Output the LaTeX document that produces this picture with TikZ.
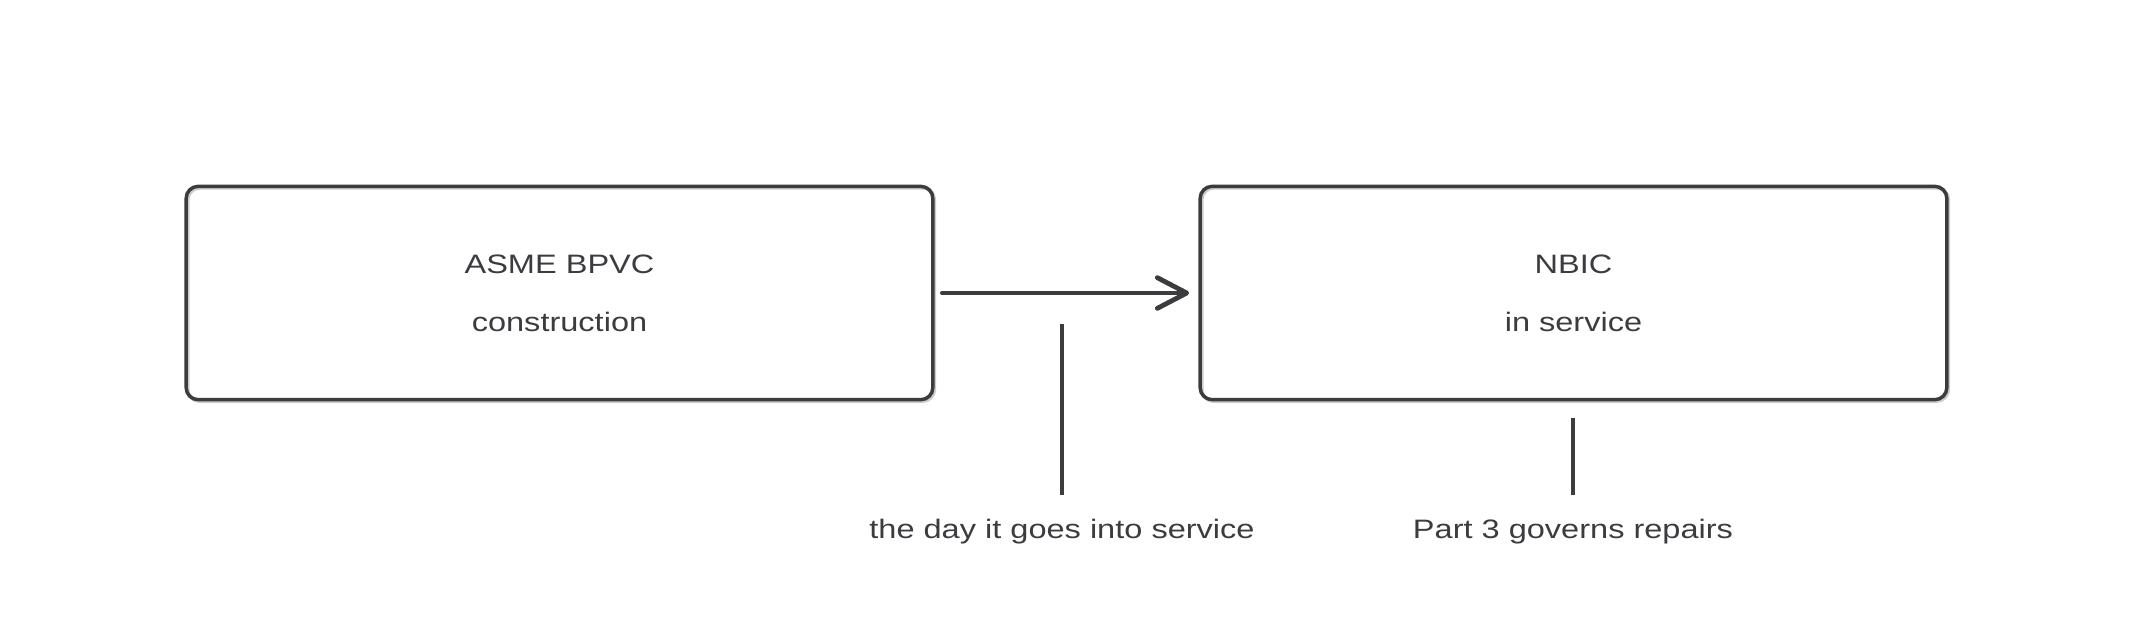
\documentclass[tikz,border=0pt]{standalone}
\usepackage{fontspec}
\setmainfont{Liberation Sans}[FakeStretch=1.22]
\usetikzlibrary{arrows.meta}
\definecolor{ink}{RGB}{60,60,64}
\definecolor{shade}{RGB}{205,205,205}
\tikzset{
  stagebox/.style={draw=ink, line width=2.6pt, rounded corners=9pt,
    minimum width=560pt, minimum height=160pt, align=center, inner sep=0pt,
    font=\fontsize{20}{43.5}\selectfont, text=ink,
    preaction={draw=shade, line width=2.6pt, transform canvas={xshift=1.2pt,yshift=-1.2pt}}},
  notetext/.style={font=\fontsize{20}{24}\selectfont, text=ink, inner sep=0pt},
  flow/.style={draw=ink, line width=2.8pt, line cap=round,
    -{Straight Barb[length=22pt,width=23pt,line width=3.6pt,line cap=round,line join=round]}},
  pointer/.style={draw=ink, line width=2.5pt}
}
\begin{document}
\begin{tikzpicture}[x=0.75pt,y=-0.75pt]
\useasboundingbox (0,0) rectangle (2133,640);
\node[stagebox] (bpvc) at (559.5,293) {ASME BPVC\\construction};
\node[stagebox] (nbic) at (1573.5,293) {NBIC\\in service};
\draw[flow, shorten <=5.5pt, shorten >=7pt] (bpvc.east) -- (nbic.west);
\node[notetext] (day) at (1062,532) {the day it goes into service};
\node[notetext] (part) at (1573,532) {Part 3 governs repairs};
\coordinate (daytop) at (1062,324);
\coordinate (daybot) at (1062,495);
\coordinate (parttop) at (1573,418);
\coordinate (partbot) at (1573,495);
\draw[pointer] (daytop) -- (daybot);
\draw[pointer] (parttop) -- (partbot);
\end{tikzpicture}
\end{document}
